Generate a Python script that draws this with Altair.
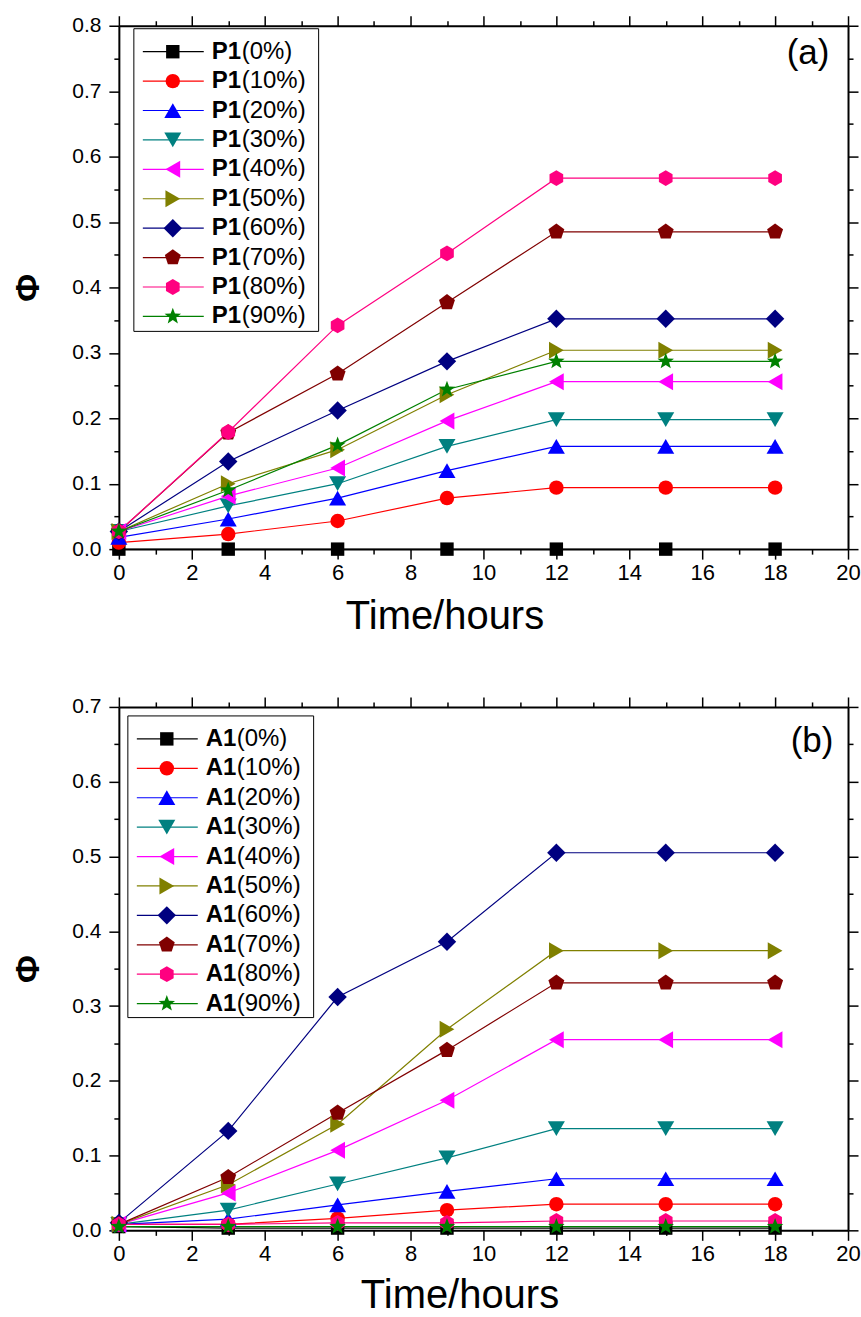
import math
import altair as alt
import pandas as pd

TIMES = [0, 3, 6, 9, 12, 15, 18]
PCTS = ["0%", "10%", "20%", "30%", "40%", "50%", "60%", "70%", "80%", "90%"]

P1_0 = [0.000, 0.000, 0.000, 0.000, 0.000, 0.000, 0.000]
P1_10 = [0.010, 0.023, 0.043, 0.078, 0.094, 0.094, 0.094]
P1_20 = [0.018, 0.046, 0.078, 0.120, 0.157, 0.157, 0.157]
P1_30 = [0.027, 0.066, 0.100, 0.157, 0.198, 0.198, 0.198]
P1_40 = [0.027, 0.081, 0.124, 0.196, 0.256, 0.256, 0.256]
P1_50 = [0.027, 0.100, 0.152, 0.236, 0.304, 0.304, 0.304]
P1_60 = [0.027, 0.134, 0.212, 0.287, 0.352, 0.352, 0.352]
P1_70 = [0.027, 0.178, 0.268, 0.377, 0.485, 0.485, 0.485]
P1_80 = [0.027, 0.179, 0.342, 0.452, 0.567, 0.567, 0.567]
P1_90 = [0.027, 0.090, 0.159, 0.244, 0.287, 0.287, 0.287]

A1_0 = [0.005, 0.003, 0.003, 0.003, 0.003, 0.003, 0.003]
A1_10 = [0.008, 0.008, 0.016, 0.027, 0.035, 0.035, 0.035]
A1_20 = [0.008, 0.015, 0.034, 0.052, 0.069, 0.069, 0.069]
A1_30 = [0.008, 0.027, 0.062, 0.097, 0.136, 0.136, 0.136]
A1_40 = [0.008, 0.050, 0.107, 0.174, 0.255, 0.255, 0.255]
A1_50 = [0.008, 0.061, 0.142, 0.269, 0.374, 0.374, 0.374]
A1_60 = [0.010, 0.133, 0.312, 0.386, 0.505, 0.505, 0.505]
A1_70 = [0.008, 0.071, 0.157, 0.241, 0.331, 0.331, 0.331]
A1_80 = [0.008, 0.008, 0.010, 0.010, 0.0125, 0.0125, 0.0125]
A1_90 = [0.005, 0.005, 0.005, 0.005, 0.005, 0.005, 0.005]

P1_SERIES = [P1_0, P1_10, P1_20, P1_30, P1_40, P1_50, P1_60, P1_70, P1_80, P1_90]
A1_SERIES = [A1_0, A1_10, A1_20, A1_30, A1_40, A1_50, A1_60, A1_70, A1_80, A1_90]

COLORS = ["#000000", "#FF0000", "#0000FF", "#008080", "#FF00FF",
          "#808000", "#000080", "#800000", "#FF0080", "#008000"]


def poly_path(pts):
    return "M" + "L".join(f"{x:.3f},{y:.3f}" for x, y in pts) + "Z"


PENTAGON = poly_path([(math.cos(math.radians(-90 + 72 * i)), math.sin(math.radians(-90 + 72 * i)))
                      for i in range(5)])
HEXAGON = poly_path([(math.cos(math.radians(-90 + 60 * i)), math.sin(math.radians(-90 + 60 * i)))
                     for i in range(6)])
STAR = poly_path([((1.0 if i % 2 == 0 else 0.42) * math.cos(math.radians(-90 + 36 * i)),
                   (1.0 if i % 2 == 0 else 0.42) * math.sin(math.radians(-90 + 36 * i)))
                  for i in range(10)])
SHAPES = ["square", "circle", "triangle-up", "triangle-down", "triangle-left",
          "triangle-right", "diamond", PENTAGON, HEXAGON, STAR]
SIZES = [180, 210, 290, 290, 290, 290, 340, 280, 250, 300]

FONT = "Liberation Sans, Arial, sans-serif"
NARROW = "Liberation Sans Narrow, Arial Narrow, Liberation Sans, sans-serif"
W, H = 730, 524


def panel(prefix, series, ymax, tag, tag_xy, box, rows_y, line_x, mark_x, txt_x, rest_x,
          title_x, title_y):
    names = [f"{prefix}({p})" for p in PCTS]
    recs = []
    for k, (nm, vals) in enumerate(zip(names, series)):
        for t, v in zip(TIMES, vals):
            recs.append({"series": nm, "k": k, "t": t, "v": v, "sz": SIZES[k]})
    df = pd.DataFrame(recs)
    leg = pd.DataFrame({"series": names, "k": list(range(10)), "b": [prefix] * 10,
                        "r": [f"({p})" for p in PCTS], "sz": SIZES})

    color = alt.Color("series:N", scale=alt.Scale(domain=names, range=COLORS), legend=None)
    shape = alt.Shape("series:N", scale=alt.Scale(domain=names, range=SHAPES), legend=None)
    size = alt.Size("sz:Q", scale=None, legend=None)

    yticks = [round(i * 0.05, 2) for i in range(int(round(ymax / 0.05)) + 1)]
    ylab = "round(datum.value*100) % 10 === 0 ? format(datum.value, '.1f') : ''"
    xlab = "datum.value % 2 === 0 ? datum.label : ''"
    xt = {"condition": {"test": "datum.value % 2 === 0", "value": 10}, "value": 5}
    yt = {"condition": {"test": "round(datum.value*100) % 10 === 0", "value": 10}, "value": 5}

    xscale = alt.Scale(domain=[0, 20], nice=False, zero=False)
    yscale = alt.Scale(domain=[0, ymax], nice=False, zero=False)

    x_bottom = alt.Axis(values=list(range(21)), labelExpr=xlab, tickSize=xt, title="Time/hours",
                        labelFont=NARROW, labelFontSize=22, labelPadding=3, labelFlush=False,
                        labelOverlap=False, titleFont=FONT, titleFontSize=40,
                        titleFontWeight="normal", titleX=title_x, titleY=title_y,
                        titleBaseline="alphabetic")
    y_left = alt.Axis(values=yticks, labelExpr=ylab, tickSize=yt, title="Φ",
                      labelFont=FONT, labelFontSize=21, labelPadding=8, labelOverlap=False,
                      labelFlush=False, titleFont=FONT, titleFontSize=34, titleFontWeight="bold",
                      titlePadding=26)
    x_top = alt.Axis(orient="top", values=list(range(21)), labels=False, tickSize=xt, title=None)
    y_right = alt.Axis(orient="right", values=yticks, labels=False, tickSize=yt, title=None)

    lines = alt.Chart(df).mark_line(strokeWidth=1.2).encode(
        x=alt.X("t:Q", scale=xscale, axis=x_bottom),
        y=alt.Y("v:Q", scale=yscale, axis=y_left),
        color=color, detail="series:N", order="t:Q")
    points = alt.Chart(df).mark_point(filled=True, opacity=1, strokeWidth=0).encode(
        x=alt.X("t:Q", scale=xscale, axis=x_top),
        y=alt.Y("v:Q", scale=yscale, axis=y_right),
        color=color, shape=shape, size=size)

    one = pd.DataFrame({"a": [0]})
    bx0, by0, bx1, by1 = box
    frame = alt.Chart(one).mark_rect(fill="white", stroke="black", strokeWidth=1).encode(
        x=alt.value(bx0), x2=alt.value(bx1), y=alt.value(by0), y2=alt.value(by1))
    rscale = alt.Scale(type="point", domain=list(range(10)), range=list(rows_y), padding=0)
    ly = alt.Y("k:O", scale=rscale, axis=None)
    leg_lines = alt.Chart(leg).mark_rule(strokeWidth=1.2).encode(
        x=alt.value(line_x[0]), x2=alt.value(line_x[1]), y=ly, color=color)
    leg_pts = alt.Chart(leg).mark_point(filled=True, opacity=1, strokeWidth=0).encode(
        x=alt.value(mark_x), y=ly, color=color, shape=shape, size=size)
    leg_b = alt.Chart(leg).mark_text(font=FONT, fontSize=24, fontWeight="bold", align="left",
                                     baseline="middle", color="black").encode(
        x=alt.value(txt_x), y=ly, text="b:N")
    leg_r = alt.Chart(leg).mark_text(font=FONT, fontSize=24, align="left",
                                     baseline="middle", color="black").encode(
        x=alt.value(rest_x), y=ly, text="r:N")
    label = alt.Chart(one).mark_text(text=tag, font=FONT, fontSize=35, align="center",
                                     baseline="middle", color="black").encode(
        x=alt.value(tag_xy[0]), y=alt.value(tag_xy[1]))

    return alt.layer(lines, points, frame, leg_lines, leg_pts, leg_b, leg_r, label).resolve_scale(
        y="independent").resolve_axis(x="independent", y="independent").properties(width=W, height=H)


pa = panel("P1", P1_SERIES, 0.8, "(a)", (690, 27), (15, 3, 200, 306), (26, 291),
           (24, 85), 54, 93, 123, 326, 79)
pb = panel("A1", A1_SERIES, 0.7, "(b)", (694, 34), (9, 9, 195, 311), (32, 297),
           (18, 79), 48, 87, 118, 341, 77)

chart = alt.vconcat(pa, pb, spacing=60).properties(
    padding={"left": 11, "top": 14, "right": 0, "bottom": 0}
).configure_view(stroke=None).configure_axis(
    domainColor="black", domainWidth=2, tickColor="black", tickWidth=1.5,
    labelColor="black", titleColor="black", grid=False
)

chart.save("out.html", embed_options={"renderer": "svg", "actions": False})
